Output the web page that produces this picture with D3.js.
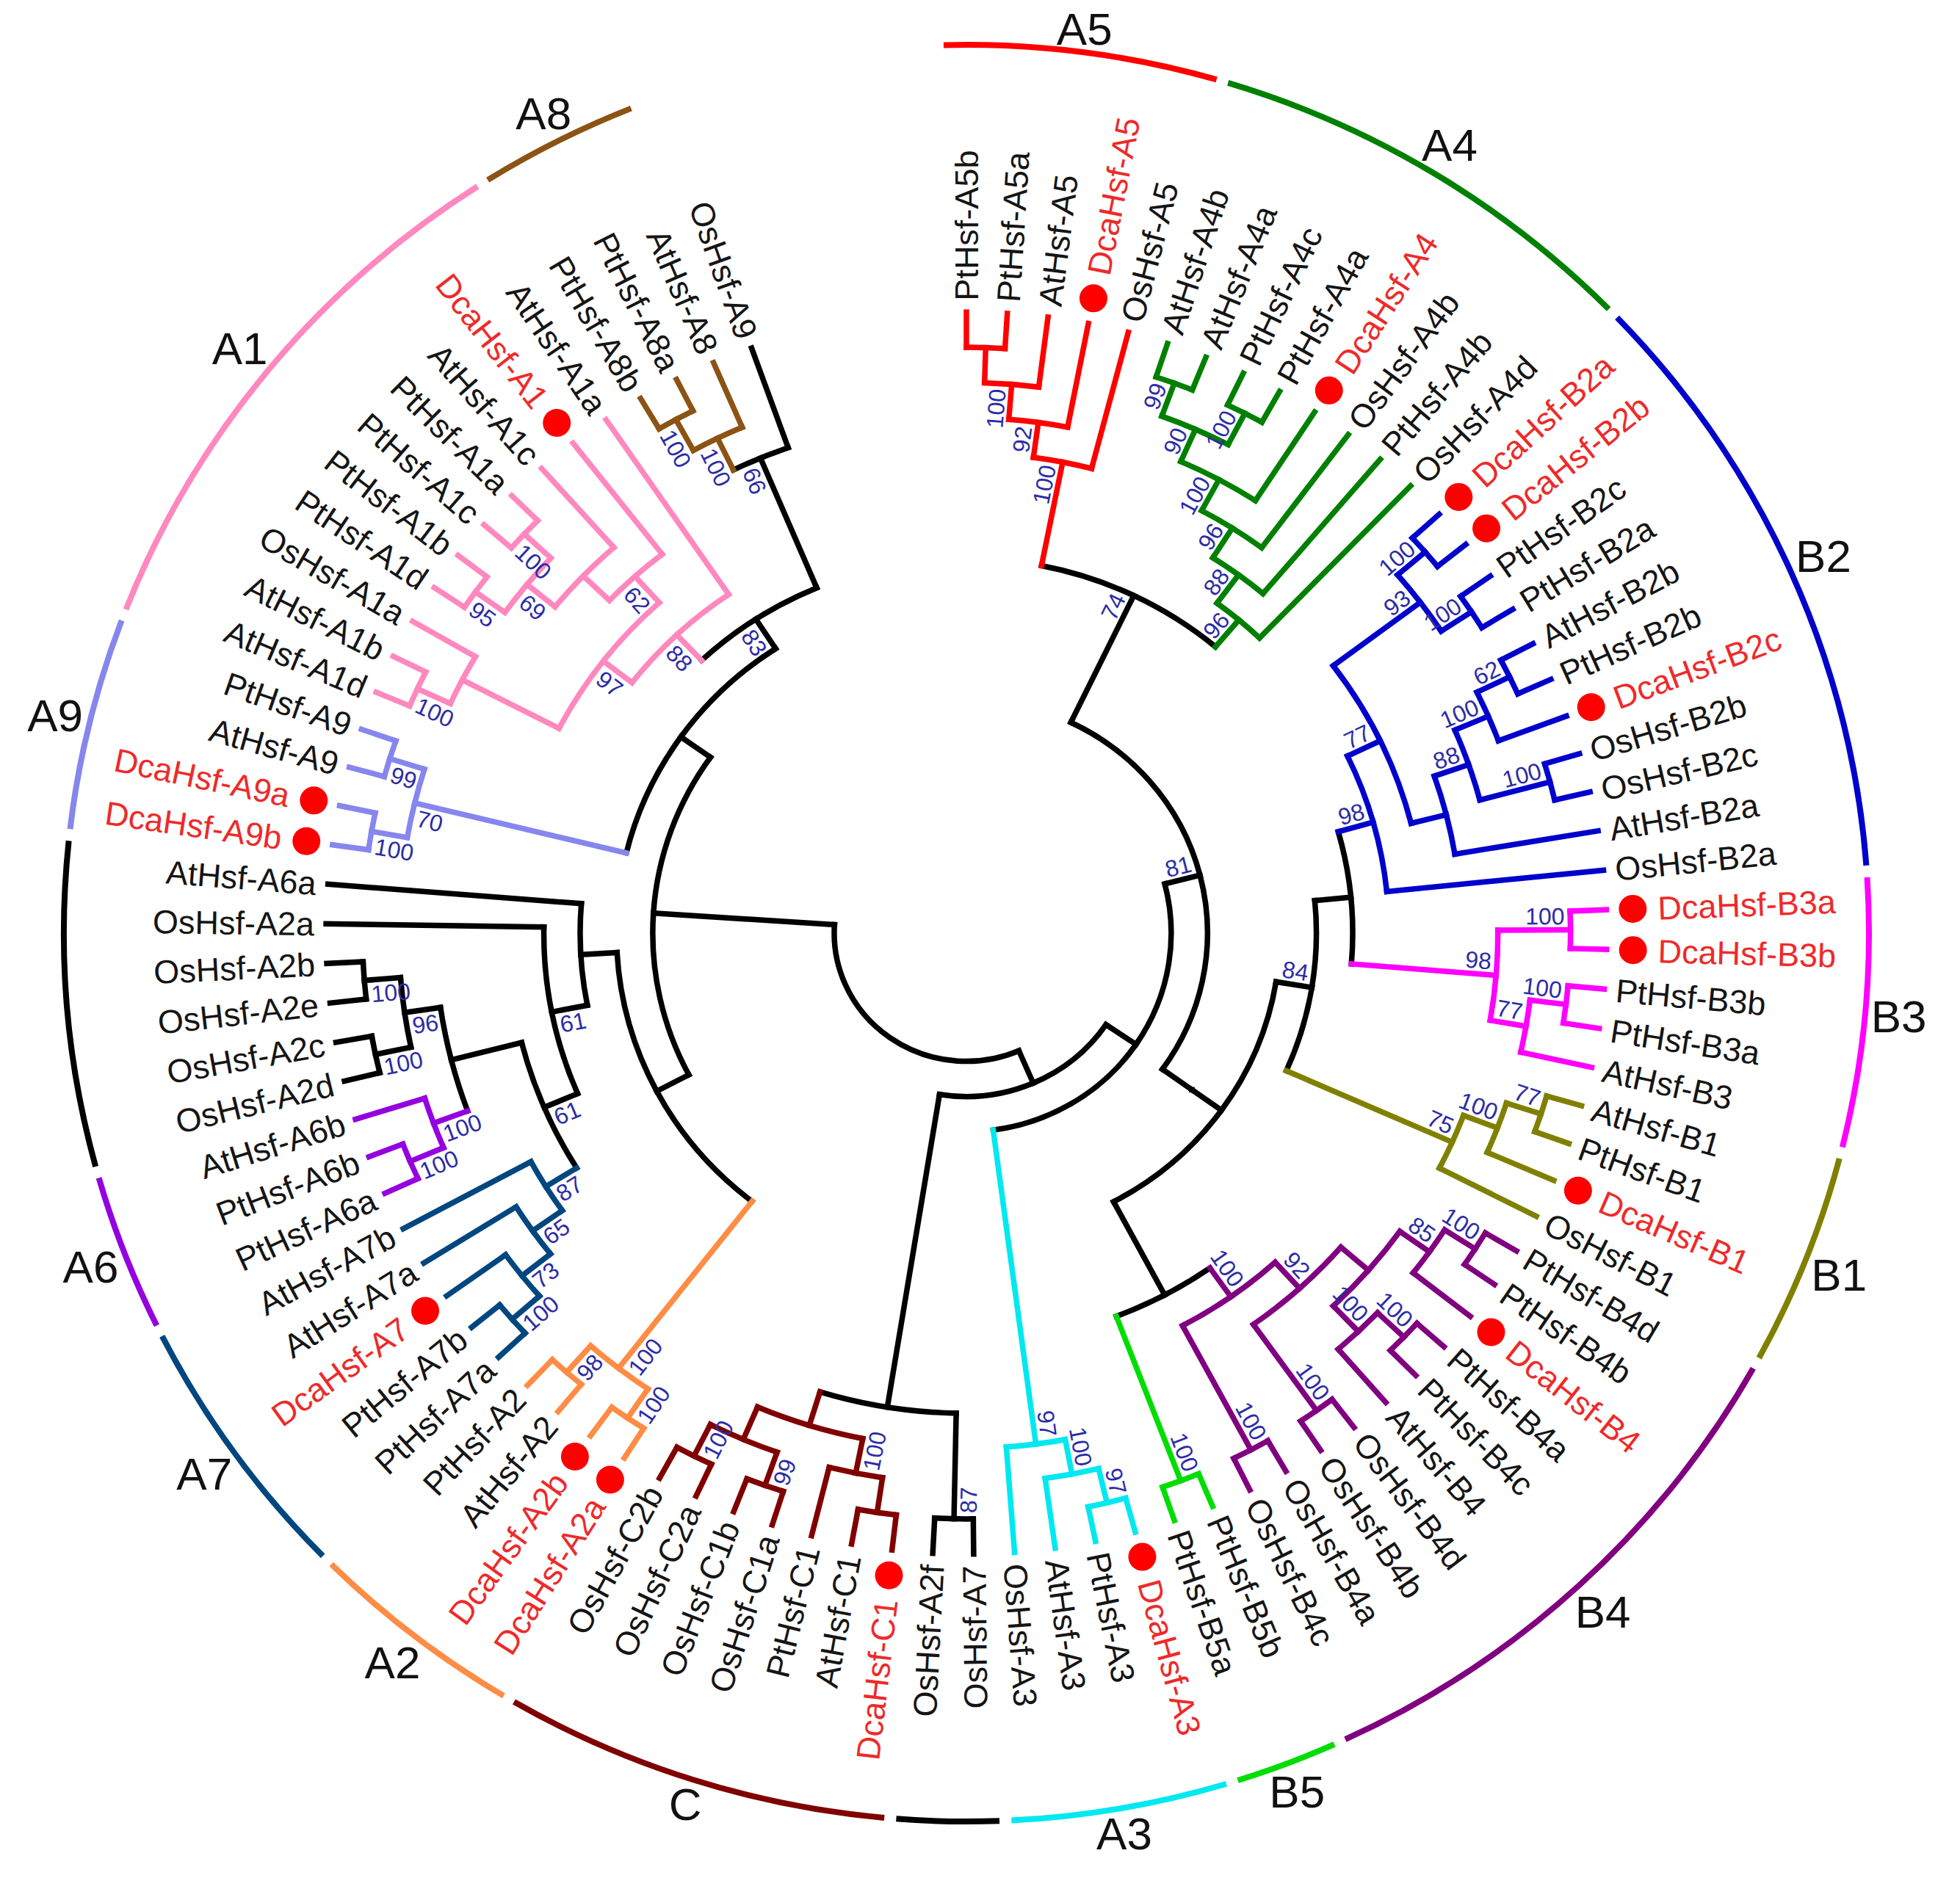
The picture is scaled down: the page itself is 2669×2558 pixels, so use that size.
<!DOCTYPE html>
<html><head><meta charset="utf-8">
<script src="https://cdn.jsdelivr.net/npm/d3@7"></script>
<style>html,body{margin:0;padding:0;background:#fff}</style>
</head><body>
<svg id="chart" width="2669" height="2558"></svg>
<script>
// ---------------- DATA ----------------
// Tree topology (Newick), internal labels = bootstrap support values
const cladeA5 = "((((PtHsf-A5b,PtHsf-A5a),AtHsf-A5)100,DcaHsf-A5)92,OsHsf-A5)100";
const cladeA4 = "((((((AtHsf-A4b,AtHsf-A4a)99,(PtHsf-A4c,PtHsf-A4a)100)90,DcaHsf-A4)100,OsHsf-A4b)96,PtHsf-A4b)88,OsHsf-A4d)96";
const cladeB2 = "((((DcaHsf-B2a,DcaHsf-B2b)100,(PtHsf-B2c,PtHsf-B2a)100)93,((((AtHsf-B2b,PtHsf-B2b)62,DcaHsf-B2c)100,(OsHsf-B2b,OsHsf-B2c)100)88,AtHsf-B2a))77,OsHsf-B2a)98";
const cladeB3 = "((DcaHsf-B3a,DcaHsf-B3b)100,((PtHsf-B3b,PtHsf-B3a)100,AtHsf-B3)77)98";
const cladeB1 = "(((AtHsf-B1,PtHsf-B1)77,DcaHsf-B1)100,OsHsf-B1)75";
const cladeB4 = "(((((PtHsf-B4d,PtHsf-B4b)100,DcaHsf-B4)85,((PtHsf-B4a,PtHsf-B4c)100,AtHsf-B4)100),(OsHsf-B4d,OsHsf-B4b)100)92,(OsHsf-B4a,OsHsf-B4c)100)100";
const cladeB5 = "(PtHsf-B5b,PtHsf-B5a)100";
const cladeA3 = "(((DcaHsf-A3,PtHsf-A3)97,AtHsf-A3)100,OsHsf-A3)97";
const cladeC  = "(((DcaHsf-C1,AtHsf-C1),PtHsf-C1)100,((OsHsf-C1a,OsHsf-C1b)99,(OsHsf-C2a,OsHsf-C2b)100))";
const cladeA2 = "((DcaHsf-A2a,DcaHsf-A2b)100,(AtHsf-A2,PtHsf-A2)98)100";
const cladeA7 = "((((PtHsf-A7a,PtHsf-A7b)100,DcaHsf-A7)73,AtHsf-A7a)65,AtHsf-A7b)87";
const cladeA6 = "((PtHsf-A6a,PtHsf-A6b)100,AtHsf-A6b)100";
const cladeOsA2 = "((OsHsf-A2d,OsHsf-A2c)100,(OsHsf-A2e,OsHsf-A2b)100)96";
const cladeA9 = "((DcaHsf-A9b,DcaHsf-A9a)100,(AtHsf-A9,PtHsf-A9)99)70";
const cladeA1 = "((((AtHsf-A1d,AtHsf-A1b)100,OsHsf-A1a),((((PtHsf-A1d,PtHsf-A1b)95,(PtHsf-A1c,PtHsf-A1a)100)69,AtHsf-A1c),DcaHsf-A1)62)97,AtHsf-A1a)88";
const cladeA8 = "((PtHsf-A8b,PtHsf-A8a)100,AtHsf-A8)100";

const rightHalf = `((((${cladeA5},${cladeA4})74,((((${cladeB2},${cladeB3}),${cladeB1})84,(${cladeB4},${cladeB5}))))81,${cladeA3}),((OsHsf-A7,OsHsf-A2f)87,${cladeC}))`;
const leftHalf = `((${cladeA2},(((${cladeA7},(${cladeA6},${cladeOsA2}))61,OsHsf-A2a)61,AtHsf-A6a)),(${cladeA9},(${cladeA1},(${cladeA8},OsHsf-A9)66)83))`;
const treeNewick = `(${rightHalf},${leftHalf});`;

// Outer clade bars: label, first leaf, last leaf
const cladeIds    = ["A5","A4","B2","B3","B1","B4","B5","A3","k1","C","A2","A7","A6","k2","A9","A1","A8"];
const cladeLabels = ["A5","A4","B2","B3","B1","B4","B5","A3","","C","A2","A7","A6","","A9","A1","A8"];
const cladeFirst  = ["PtHsf-A5b","AtHsf-A4b","DcaHsf-B2a","DcaHsf-B3a","AtHsf-B1","PtHsf-B4d","PtHsf-B5b","DcaHsf-A3","OsHsf-A7","DcaHsf-C1","DcaHsf-A2a","PtHsf-A7a","PtHsf-A6a","OsHsf-A2d","DcaHsf-A9b","AtHsf-A1d","PtHsf-A8b"];
const cladeLast   = ["OsHsf-A5","OsHsf-A4d","OsHsf-B2a","AtHsf-B3","OsHsf-B1","OsHsf-B4c","PtHsf-B5a","OsHsf-A3","OsHsf-A2f","OsHsf-C2b","PtHsf-A2","AtHsf-A7b","AtHsf-A6b","AtHsf-A6a","PtHsf-A9","AtHsf-A1a","AtHsf-A8"];
const highlightPrefix = "Dca";

// ---------------- STYLE ----------------
const cladeColors = ["#ff0000","#008000","#0000cd","#ff00ff","#808000","#800080","#00dd00","#00e8f0","#000000","#800000","#ff8c45","#00467f","#9400e0","#000000","#8686ee","#ff88bf","#8b5314"];
const W = 2669, H = 2558, CX = 1316, CY = 1271;
const R_ROOT = 180, R_TIP = 872, KY = 0.97;      // tree (slightly flattened vertically like the source image)
const RX_BAR = 1229, RY_BAR = 1210;              // outer clade bars
const ANGLE_SPAN = 340.4;
const FONT = "'Liberation Sans', Arial, Helvetica, sans-serif";

// ---------------- PARSE ----------------
function parseNewick(s) {
  let i = 0;
  function node() {
    const n = {};
    if (s[i] === "(") {
      i++; n.children = [];
      n.children.push(node());
      while (s[i] === ",") { i++; n.children.push(node()); }
      i++; // ')'
    }
    let lab = "";
    while (i < s.length && !",();".includes(s[i])) lab += s[i++];
    if (n.children) { if (lab) n.support = lab; } else n.name = lab;
    return n;
  }
  return node();
}

const root = d3.hierarchy(parseNewick(treeNewick));
d3.cluster().size([1, 1]).separation(() => 1)(root);
const leaves = root.leaves();
const angleScale = d3.scaleLinear().domain([leaves[0].x, leaves[leaves.length - 1].x]).range([0, ANGLE_SPAN]);
const radiusScale = d3.scaleLinear().domain([0, 1]).range([R_ROOT, R_TIP]);
root.each(d => { d.a = angleScale(d.x); d.r = radiusScale(d.y); });

const leafByName = new Map(leaves.map(d => [d.data.name, d]));
const colorScale = d3.scaleOrdinal(cladeIds, cladeColors);
const leafClade = new Map();
cladeIds.forEach((id, k) => {
  const i0 = leaves.indexOf(leafByName.get(cladeFirst[k]));
  const i1 = leaves.indexOf(leafByName.get(cladeLast[k]));
  for (let i = i0; i <= i1; i++) leafClade.set(leaves[i].data.name, id);
});
root.eachAfter(d => {
  if (!d.children) d.clade = leafClade.get(d.data.name) || null;
  else {
    const c = d.children.map(e => e.clade);
    d.clade = c.every(x => x && x === c[0]) ? c[0] : null;
  }
});
const nodeColor = d => (d.clade ? colorScale(d.clade) : "#000");

const rad = a => a * Math.PI / 180;
const ept = (rx, ry, a) => [rx * Math.sin(rad(a)), -ry * Math.cos(rad(a))];
const pt = (r, a) => ept(r, r * KY, a);
function arcPath(rx, ry, a0, a1) {
  const p0 = ept(rx, ry, a0), p1 = ept(rx, ry, a1);
  const large = (a1 - a0) > 180 ? 1 : 0;
  return `M${p0[0]},${p0[1]}A${rx},${ry} 0 ${large} 1 ${p1[0]},${p1[1]}`;
}

const svg = d3.select("#chart");
svg.append("rect").attr("width", W).attr("height", H).attr("fill", "#fff");
const g = svg.append("g").attr("transform", `translate(${CX},${CY})`);

// ---------------- BRANCHES ----------------
const gBr = g.append("g").attr("fill", "none").attr("stroke-width", 7.5).attr("stroke-linecap", "square");
root.descendants().forEach(d => {
  if (d.parent) {
    const p0 = pt(d.parent.r, d.a), p1 = pt(d.r, d.a);
    gBr.append("path").attr("d", `M${p0[0]},${p0[1]}L${p1[0]},${p1[1]}`).attr("stroke", nodeColor(d));
  }
  if (d.children) {
    const a0 = d.children[0].a, a1 = d.children[d.children.length - 1].a;
    gBr.append("path").attr("d", arcPath(d.r, d.r * KY, a0, a1)).attr("stroke", nodeColor(d));
  }
});

// ---------------- LEAF LABELS & DOTS ----------------
const isRight = a => a < 177;
const gLeaf = g.append("g").attr("font-family", FONT).attr("font-size", 45);
leaves.forEach(d => {
  const hi = d.data.name.startsWith(highlightPrefix);
  const right = isRight(d.a);
  if (hi) {
    const c = pt(d.r + 36, d.a);
    gLeaf.append("circle").attr("r", 19).attr("fill", "#ff0000").attr("cx", c[0]).attr("cy", c[1]);
  }
  const p = pt(d.r + (hi ? 70 : 16), d.a);
  gLeaf.append("text")
    .attr("transform", `translate(${p[0]},${p[1]}) rotate(${d.a - 90 + (right ? 0 : 180)})`)
    .attr("text-anchor", right ? "start" : "end")
    .attr("dy", "0.36em")
    .attr("fill", hi ? "#ee2a2a" : "#151515")
    .text(d.data.name);
});

// ---------------- BOOTSTRAP LABELS ----------------
const gBs = g.append("g").attr("font-family", FONT).attr("font-size", 32).attr("fill", "#2c2ca6");
root.descendants().filter(d => d.children && d.data.support).forEach(d => {
  const txt = d.data.support;
  const w = 0.556 * 32 * txt.length;
  const right = isRight(d.a);
  const p = pt(d.r, d.a);
  gBs.append("text")
    .attr("transform", `translate(${p[0]},${p[1]}) rotate(${d.a - 90}) translate(${-8 - w / 2},${-19})${right ? "" : " rotate(180)"}`)
    .attr("text-anchor", "middle")
    .attr("dy", "0.36em")
    .text(txt);
});

// ---------------- OUTER CLADE BARS ----------------
const gBar = g.append("g").attr("fill", "none").attr("stroke-width", 8);
const gCl = g.append("g").attr("font-family", FONT).attr("font-size", 62).attr("fill", "#111");
cladeIds.forEach((id, k) => {
  const a0 = leafByName.get(cladeFirst[k]).a - 1.45;
  const a1 = leafByName.get(cladeLast[k]).a + 1.45;
  gBar.append("path").attr("d", arcPath(RX_BAR, RY_BAR, a0, a1)).attr("stroke", colorScale(id));
  if (cladeLabels[k]) {
    const am = (a0 + a1) / 2;
    const t = gCl.append("text").attr("text-anchor", "middle").attr("dy", "0.36em").text(cladeLabels[k]);
    const w = t.node().getComputedTextLength();
    const hh = 22;
    const off = 4 + 2 + Math.abs(Math.sin(rad(am))) * w / 2 + Math.abs(Math.cos(rad(am))) * hh;
    const pp = ept(RX_BAR + off, RY_BAR + off, am);
    t.attr("x", pp[0]).attr("y", pp[1]);
  }
});
</script>
</body></html>
